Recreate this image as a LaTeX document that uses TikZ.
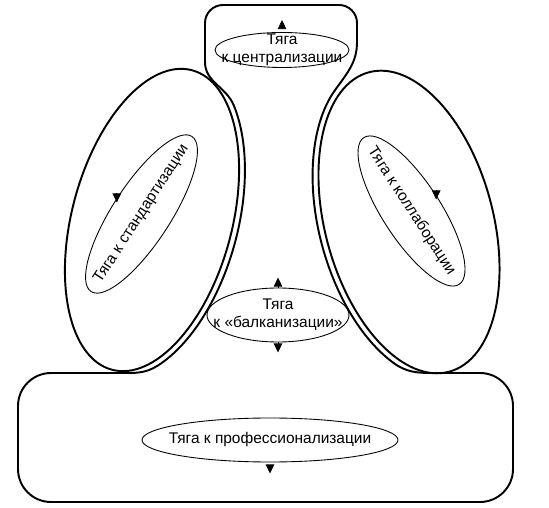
\documentclass[tikz,border=0pt]{standalone}
\usepackage{fontspec}
\setmainfont{Liberation Sans}
\usetikzlibrary{shapes.geometric,arrows.meta}

\begin{document}
\begin{tikzpicture}[
    font=\fontsize{8.8}{10.2}\selectfont,
    outline/.style={line width=1.1pt, line cap=round, line join=round},
    pull/.style={draw, ellipse, line width=0.5pt, inner sep=0pt},
    pull_tip/.style={-{Triangle[length=0.18cm, width=0.17cm]}, line width=0.4pt}
  ]
      \useasboundingbox (0,0) rectangle (10.98,10.14);

      % big ellipses and the inner arcs of the outline
      \begin{scope}[shift={(3.04,5.74)}, rotate=75]
        \draw [outline] (0,0) ellipse [x radius=3.10, y radius=1.60];
        \draw [outline] (-35:3.22 and 1.72) arc [start angle=-35, end angle=-150, x radius=3.22, y radius=1.72];
        \coordinate (left_high) at (-35:3.22 and 1.72);
        \coordinate (left_low) at (-150:3.22 and 1.72);
      \end{scope}

      \begin{scope}[shift={(8.18,5.70)}, rotate=105]
        \draw [outline] (0,0) ellipse [x radius=3.10, y radius=1.68];
        \draw [outline] (145:3.22 and 1.80) arc [start angle=145, end angle=25, x radius=3.22, y radius=1.80];
        \coordinate (right_low) at (145:3.22 and 1.80);
        \coordinate (right_high) at (25:3.22 and 1.80);
      \end{scope}

      %%%%%%%%%%%%%%%%%%%%%%%%%%%%%%%%%%%%%%%%%%%%%%%%%%%%%%%%%%%%%%
      % Outline
      %%%%%%%%%%%%%%%%%%%%%%%%%%%%%%%%%%%%%%%%%%%%%%%%%%%%%%%%%%%%%%
      \coordinate (j_left) at (2.40, 2.68);
      \coordinate (j_right) at (8.66, 2.68);
      \coordinate (top_left) at (4.10, 8.90);
      \coordinate (top_right) at (7.14, 9.30);

      \draw [outline, rounded corners=0.66cm] (j_left) -- (0.36, 2.68) -- (0.36, 0.10)
        -- (10.26, 0.10) -- (10.26, 2.68) -- (j_right);
      \draw [outline] (j_right) to[out=180, in=-36.4] (right_low);
      \draw [outline] (right_high) to[out=54.8, in=-90] (top_right);
      \draw [outline, rounded corners=0.36cm] (top_right) -- (7.14, 10.04) -- (4.10, 10.04) -- (top_left);
      \draw [outline] (top_left) to[out=-90, in=112.3] (left_high);
      \draw [outline] (left_low) to[out=-147.8, in=0] (j_left);

      %%%%%%%%%%%%%%%%%%%%%%%%%%%%%%%%%%%%%%%%%%%%%%%%%%%%%%%%%%%%%%
      % Pulls
      %%%%%%%%%%%%%%%%%%%%%%%%%%%%%%%%%%%%%%%%%%%%%%%%%%%%%%%%%%%%%%
      \draw (5.64, 9.14) node [pull, minimum width=2.68cm, minimum height=0.70cm] (central) {};
      \draw (central) node [align=center] (central_text) {Тяга\\к централизации};
      \draw [pull_tip] ([yshift=0.08cm]central.north) -- ++(0, 0.16);

      \draw (2.83, 5.86) node [pull, rotate=57, minimum width=3.70cm, minimum height=1.16cm] (standard) {};
      \draw (standard) node [rotate=57] (standard_text) {Тяга к стандартизации};
      \draw [pull_tip] ([yshift=0.09cm]standard.north) -- ++(0, -0.18);

      \draw (8.23, 5.92) node [pull, rotate=-57, minimum width=3.50cm, minimum height=1.16cm] (collab) {};
      \draw (collab) node [rotate=-57] (collab_text) {Тяга к коллаборации};
      \draw [pull_tip] ([yshift=0.09cm]collab.north) -- ++(0, -0.18);

      \draw (5.56, 3.84) node [pull, minimum width=2.84cm, minimum height=1.08cm] (balkan) {};
      \draw (balkan) node [align=center] (balkan_text) {Тяга\\к «балканизации»};
      \draw [pull_tip] (balkan.north) -- ++(0, 0.20);
      \draw [pull_tip] (balkan.south) -- ++(0, -0.20);

      \draw (5.40, 1.34) node [pull, minimum width=5.12cm, minimum height=0.88cm] (prof) {};
      \draw (prof) node (prof_text) {Тяга к профессионализации};
      \draw [pull_tip] ([yshift=-0.06cm]prof.south) -- ++(0, -0.16);
    \end{tikzpicture}
\end{document}
